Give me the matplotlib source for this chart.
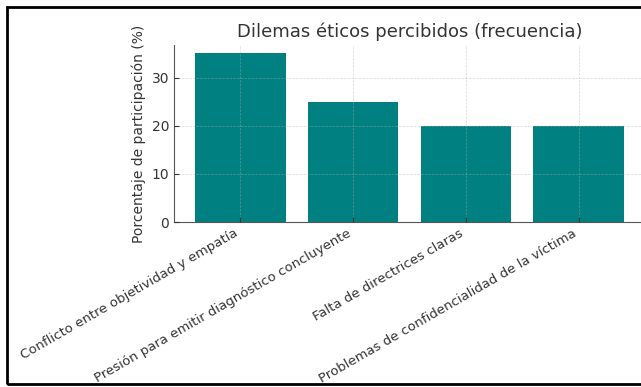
import matplotlib.pyplot as plt

categorias = [
    "Conflicto entre objetividad y empatía",
    "Presión para emitir diagnóstico concluyente",
    "Falta de directrices claras",
    "Problemas de confidencialidad de la víctima",
]
porcentajes = [35, 25, 20, 20]

fig = plt.figure(figsize=(6.41, 3.87), dpi=100)
ax = fig.add_axes([174 / 641, 1 - 222 / 387, (645 - 174) / 641, (222 - 45) / 387])

ax.bar(categorias, porcentajes, color="#008080", width=0.8)
ax.set_axisbelow(False)
ax.grid(True, linestyle="--", linewidth=0.5, color="#b0b0b0", alpha=0.5)

ax.set_title("Dilemas éticos percibidos (frecuencia)", fontsize=13, color="#333333")
ax.set_ylabel("Porcentaje de participación (%)", fontsize=10, color="#333333")
ax.set_yticks([0, 10, 20, 30])
ax.tick_params(direction="in", length=3.5, colors="#333333", labelsize=10)
ax.tick_params(axis="x", labelsize=9.5)
plt.setp(ax.get_xticklabels(), rotation=30, ha="right")

for side in ["top", "right"]:
    ax.spines[side].set_visible(False)
for side in ["left", "bottom"]:
    ax.spines[side].set_color("#555555")

# black frame around the whole figure
fig.patches.append(plt.Rectangle((7 / 641, 3 / 387), 1.2, 1 - 10 / 387,
                                 transform=fig.transFigure, fill=False,
                                 edgecolor="black", linewidth=2))

fig.savefig("out.png", dpi=100)
